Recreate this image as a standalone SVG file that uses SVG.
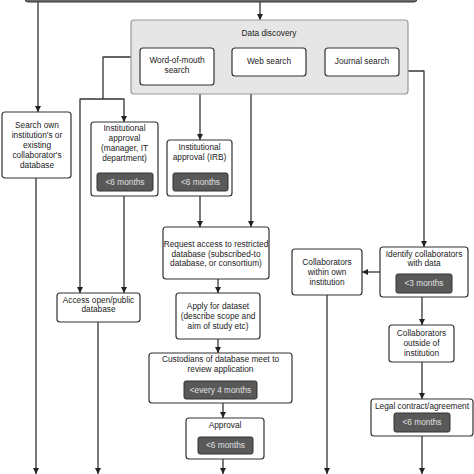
<svg xmlns="http://www.w3.org/2000/svg" width="474" height="474" viewBox="0 0 474 474">
<style>
.box{fill:#fff;stroke:#333;stroke-width:1.2}
.pill{fill:#595959;stroke:#333;stroke-width:1}
text{font-family:"Liberation Sans",Arial,sans-serif;font-size:8.3px;fill:#222;text-anchor:middle}
.pt{fill:#e0e0e0}
.c{fill:none;stroke:#333;stroke-width:1.3;stroke-linejoin:round}
</style>
<defs>
<marker id="a" viewBox="0 0 10 10" refX="10" refY="5" markerWidth="6" markerHeight="6" orient="auto" markerUnits="userSpaceOnUse"><path d="M0,0 L10,5 L0,10z" fill="#222"/></marker>
</defs>
<rect width="474" height="474" fill="#fff"/>
<g id="topbar"><rect x="25" y="-10" width="392" height="12" rx="3" fill="#6b6b6b" stroke="#333" stroke-width="1"/></g>
<g id="connectors">
<path class="c" d="M260,2 V20" marker-end="url(#a)"/>
<path class="c" d="M38,2 V112" marker-end="url(#a)"/>
<path class="c" d="M131,57 H103 V99"/>
<path class="c" d="M103,99 H124 V122" marker-end="url(#a)"/>
<path class="c" d="M103,99 H80 V293" marker-end="url(#a)"/>
<path class="c" d="M200,94 V140" marker-end="url(#a)"/>
<path class="c" d="M251,94 V227" marker-end="url(#a)"/>
<path class="c" d="M124,196 V293" marker-end="url(#a)"/>
<path class="c" d="M36,178 V474" marker-end="url(#a)"/>
<path class="c" d="M98,322 V474" marker-end="url(#a)"/>
<path class="c" d="M200,196 V227" marker-end="url(#a)"/>
<path class="c" d="M218,279 V293" marker-end="url(#a)"/>
<path class="c" d="M218,339 V353" marker-end="url(#a)"/>
<path class="c" d="M223,403 V418" marker-end="url(#a)"/>
<path class="c" d="M223,459 V474" marker-end="url(#a)"/>
<path class="c" d="M408,71 H424 V247" marker-end="url(#a)"/>
<path class="c" d="M380,272 H362" marker-end="url(#a)"/>
<path class="c" d="M327,295 V474" marker-end="url(#a)"/>
<path class="c" d="M422,297 V325" marker-end="url(#a)"/>
<path class="c" d="M422,362 V399" marker-end="url(#a)"/>
<path class="c" d="M422,436 V474" marker-end="url(#a)"/>
</g>
<g id="data-discovery">
<rect x="131" y="20" width="277" height="74" rx="3" fill="#e6e6e6" stroke="#999" stroke-width="1.2"/>
<text x="269" y="36">Data discovery</text>
</g>
<g id="word-of-mouth"><rect class="box" x="140" y="48" width="74" height="37" rx="3"/><text x="177" y="63">Word-of-mouth</text><text x="177" y="73">search</text></g>
<g id="web-search"><rect class="box" x="232" y="48" width="74" height="28" rx="3"/><text x="269" y="64">Web search</text></g>
<g id="journal-search"><rect class="box" x="325" y="48" width="74" height="28" rx="3"/><text x="362" y="64">Journal search</text></g>
<g id="search-own"><rect class="box" x="2" y="112" width="69" height="66" rx="3"/>
<text x="37" y="128">Search own</text><text x="37" y="138">institution's or</text><text x="37" y="148">existing</text><text x="37" y="158">collaborator's</text><text x="37" y="168">database</text></g>
<g id="inst-manager"><rect class="box" x="91" y="122" width="67" height="74" rx="3"/>
<text x="124.5" y="131">Institutional</text><text x="124.5" y="141">approval</text><text x="124.5" y="151">(manager, IT</text><text x="124.5" y="161">department)</text>
<rect class="pill" x="97" y="173" width="56" height="18" rx="2"/><text class="pt" x="125" y="185">&lt;6 months</text></g>
<g id="inst-irb"><rect class="box" x="167" y="140" width="65" height="56" rx="3"/>
<text x="199.5" y="150">Institutional</text><text x="199.5" y="160">approval (IRB)</text>
<rect class="pill" x="173" y="173" width="55" height="18" rx="2"/><text class="pt" x="200.5" y="185">&lt;6 months</text></g>
<g id="request-access"><rect class="box" x="163" y="227" width="106" height="52" rx="3"/>
<text x="216" y="247">Request access to restricted</text><text x="216" y="256.5">database (subscribed-to</text><text x="216" y="266">database, or consortium)</text></g>
<g id="apply"><rect class="box" x="176" y="293" width="84" height="46" rx="3"/>
<text x="218" y="309">Apply for dataset</text><text x="218" y="319">(describe scope and</text><text x="218" y="329">aim of study etc)</text></g>
<g id="custodians"><rect class="box" x="149" y="353" width="143" height="50" rx="3"/>
<text x="220.5" y="362">Custodians of database meet to</text><text x="220.5" y="372">review application</text>
<rect class="pill" x="184" y="381" width="73" height="18" rx="2"/><text class="pt" x="220.5" y="393">&lt;every 4 months</text></g>
<g id="approval"><rect class="box" x="186" y="418" width="78" height="41" rx="3"/>
<text x="225" y="428">Approval</text>
<rect class="pill" x="198" y="437" width="55" height="17" rx="2"/><text class="pt" x="225.5" y="448">&lt;6 months</text></g>
<g id="access-open"><rect class="box" x="57" y="293" width="83" height="29" rx="3"/>
<text x="98.5" y="302.5">Access open/public</text><text x="98.5" y="312">database</text></g>
<g id="identify"><rect class="box" x="380" y="247" width="88" height="50" rx="3"/>
<text x="424" y="256.5">Identify collaborators</text><text x="424" y="266">with data</text>
<rect class="pill" x="396" y="274" width="56" height="19" rx="2"/><text class="pt" x="424" y="286">&lt;3 months</text></g>
<g id="collab-within"><rect class="box" x="292" y="249" width="70" height="46" rx="3"/>
<text x="327" y="265">Collaborators</text><text x="327" y="275">within own</text><text x="327" y="284.5">institution</text></g>
<g id="collab-outside"><rect class="box" x="389" y="325" width="65" height="37" rx="3"/>
<text x="421.5" y="336">Collaborators</text><text x="421.5" y="346">outside of</text><text x="421.5" y="356">institution</text></g>
<g id="legal"><rect class="box" x="371" y="399" width="102" height="37" rx="3"/>
<text x="422" y="409">Legal contract/agreement</text>
<rect class="pill" x="394" y="413" width="56" height="19" rx="2"/><text class="pt" x="422" y="425">&lt;6 months</text></g>
</svg>
